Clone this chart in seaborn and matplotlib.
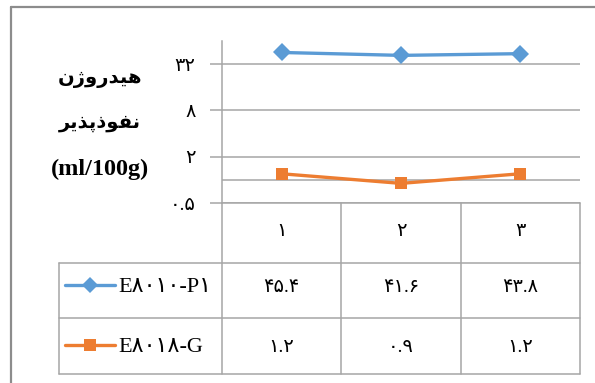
import numpy as np
import pandas as pd
import matplotlib
matplotlib.use("Agg")
import matplotlib.pyplot as plt
from matplotlib.lines import Line2D
from matplotlib.ticker import FixedLocator, FixedFormatter, NullFormatter
import seaborn as sns

# ---------------- data ----------------
categories = ["۱", "۲", "۳"]
series_names = ["E۸۰۱۰-P۱", "E۸۰۱۸-G"]
p1_values = [45.4, 41.6, 43.8]
g_values = [1.2, 0.9, 1.2]
ytick_values = [0.5, 2, 8, 32]
ytick_labels = ["۰.۵", "۲", "۸", "۳۲"]
# y label (Persian, pre-shaped into presentation forms in visual order) + unit
ylabel_line1 = "\uFEE5\uFB8A\uFEED\uFEAD\uFEAA\uFBFF\uFEEB"          # هیدروژن
ylabel_line2 = "\uFEAE\uFBFE\uFEAC\uFB58\uFEAB\uFEEE\uFED4\uFEE7"    # نفوذپذیر
ylabel_line3 = "(ml/100g)"
colors = ["#5B9BD5", "#ED7D31"]
markers = ["D", "s"]

fa_digits = str.maketrans("0123456789", "۰۱۲۳۴۵۶۷۸۹")
def fa(v):
    return f"{v:g}".translate(fa_digits)

df = pd.DataFrame({
    "pos": list(range(len(categories))) * 2,
    "value": p1_values + g_values,
    "series": [series_names[0]] * 3 + [series_names[1]] * 3,
})

# ---------------- style ----------------
sns.set_theme(style="white")
plt.rcParams["font.family"] = ["Liberation Serif", "DejaVu Sans"]
plt.rcParams["text.color"] = "black"
plt.rcParams["ytick.labelcolor"] = "black"
FAM = ["Liberation Serif", "DejaVu Sans"]
GRID = "#a6a6a6"

W, H = 595, 383
fig = plt.figure(figsize=(W / 100, H / 100), dpi=100)
fig.patch.set_facecolor("white")

# outer frame (top + left)
fig.add_artist(Line2D([11 / W, 1.0], [1 - 7 / H, 1 - 7 / H], transform=fig.transFigure, color="#8c8c8c", lw=1.6))
fig.add_artist(Line2D([11 / W, 11 / W], [1 - 7 / H, 0.0], transform=fig.transFigure, color="#8c8c8c", lw=1.6))

# ---------------- main plot ----------------
L, R, T, B = 222, 580, 41, 203
ax = fig.add_axes([L / W, 1 - B / H, (R - L) / W, (B - T) / H])
sns.lineplot(data=df, x="pos", y="value", hue="series", style="series",
             hue_order=series_names, style_order=series_names,
             palette=colors, markers=markers, dashes=False,
             linewidth=2.4, markersize=9, markeredgewidth=0,
             legend=False, ax=ax, zorder=3)
ax.set_yscale("log", base=2)
ax.set_ylim(0.5, 64)
ax.set_xlim(-0.5, len(categories) - 0.5)
ax.yaxis.set_major_locator(FixedLocator(ytick_values))
ax.yaxis.set_major_formatter(FixedFormatter(ytick_labels))
ax.yaxis.set_minor_locator(FixedLocator([1]))
ax.yaxis.set_minor_formatter(NullFormatter())
ax.grid(True, axis="y", which="both", color=GRID, lw=1.1)
ax.set_xticks([])
ax.set_xlabel("")
ax.set_ylabel("")
for s in ["top", "right", "bottom"]:
    ax.spines[s].set_visible(False)
ax.spines["left"].set_color(GRID)
ax.spines["left"].set_linewidth(1.1)
ax.tick_params(axis="y", which="major", length=9, width=1.1, color=GRID, pad=10, left=True,
               labelcolor="black")
ax.tick_params(axis="y", which="minor", length=0)
for lab in ax.get_yticklabels():
    lab.set_family(FAM)
    lab.set_fontsize(14)
    lab.set_color("black")

# y label
for txt, ypx, fs in [(ylabel_line1, 79, 14), (ylabel_line2, 123, 14), (ylabel_line3, 169, 17.5)]:
    fig.text(100 / W, 1 - ypx / H, txt, ha="center", va="center", fontsize=fs,
             fontweight="bold", color="black", family=["Liberation Serif", "DejaVu Sans"])

# ---------------- data table ----------------
TL, TB = 59, 374
tab = fig.add_axes([TL / W, 1 - TB / H, (R - TL) / W, (TB - B) / H])
n = len(categories)
unit = (R - L) / n
x_left = -0.5 - (L - TL) / unit
tab.set_xlim(x_left, n - 0.5)
tab.set_ylim(TB - B, 0)
tab.axis("off")

def px2x(px):
    return -0.5 + (px - L) / unit

row_edges = [0, 60, 115, TB - B]
lkw = dict(color=GRID, lw=1.1, clip_on=False)
# horizontal lines
tab.plot([-0.5, n - 0.5], [row_edges[0]] * 2, **lkw)
for yy in row_edges[1:]:
    tab.plot([x_left, n - 0.5], [yy, yy], **lkw)
# vertical lines
for xx in np.arange(n + 1) - 0.5:
    tab.plot([xx, xx], [row_edges[0], row_edges[-1]], **lkw)
tab.plot([x_left, x_left], [row_edges[1], row_edges[-1]], **lkw)

# header
for i, c in enumerate(categories):
    tab.text(i, 29, c, ha="center", va="center", fontsize=14, family=FAM, color="black")

rows = [p1_values, g_values]
row_y = [84, 144]
for r, (vals, yc) in enumerate(zip(rows, row_y)):
    for i, v in enumerate(vals):
        tab.text(i, yc, fa(v), ha="center", va="center", fontsize=14, family=FAM, color="black")
    # legend key
    tab.plot([px2x(65), px2x(115)], [yc - 2, yc - 2], color=colors[r], lw=2.4, clip_on=False)
    tab.plot([px2x(90)], [yc - 2], marker=markers[r], color=colors[r], markersize=8 if r == 0 else 9,
             markeredgewidth=0, clip_on=False)
    tab.text(px2x(118), yc, series_names[r], ha="left", va="center", fontsize=16, family=FAM,
             color="black")

fig.savefig("out.png", dpi=100, facecolor="white")
